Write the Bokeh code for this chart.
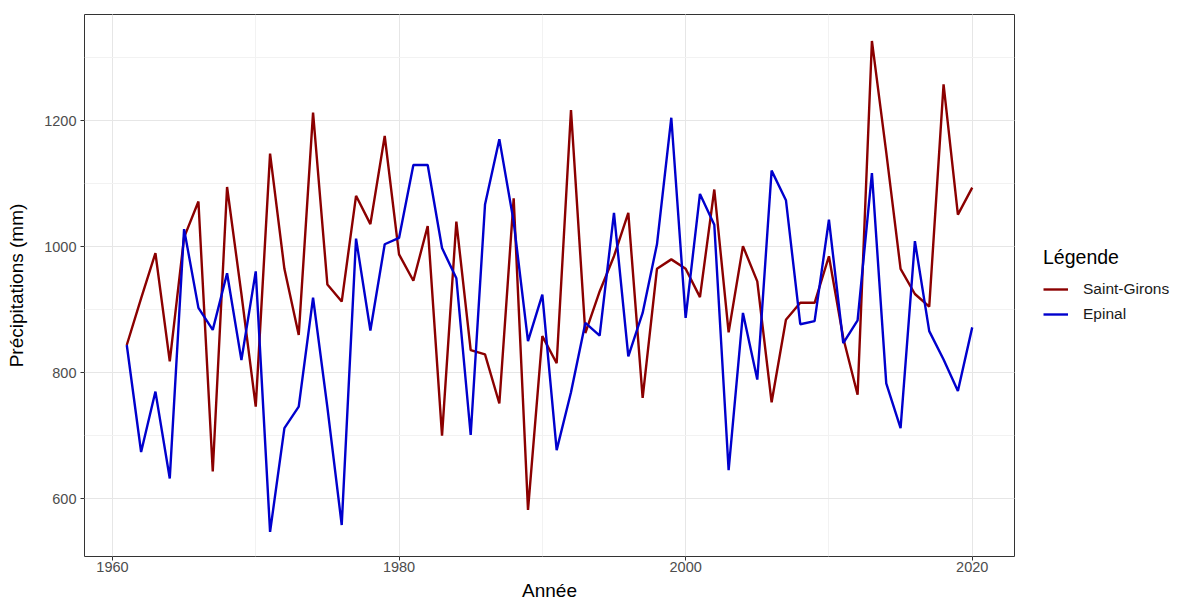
from bokeh.plotting import figure
from bokeh.models import (ColumnDataSource, Range1d, SingleIntervalTicker, Legend, LegendItem)
from bokeh.embed import file_html
from bokeh.resources import INLINE

years = list(range(1961, 2021))
saint_girons = [844, 918, 990, 818, 1015, 1072, 643, 1095, 925, 746,
                1148, 965, 860, 1213, 940, 913, 1081, 1036, 1176, 988,
                946, 1033, 700, 1040, 836, 829, 751, 1077, 582, 858,
                815, 1217, 863, 929, 985, 1054, 760, 965, 980, 965,
                920, 1091, 864, 1001, 945, 753, 884, 911, 911, 985,
                855, 765, 1327, 1150, 965, 925, 905, 1258, 1051, 1094]
epinal = [844, 674, 770, 632, 1028, 903, 868, 958, 820, 961,
          547, 712, 746, 919, 745, 558, 1013, 867, 1004, 1014,
          1130, 1130, 998, 950, 701, 1067, 1171, 1040, 850, 924,
          677, 769, 879, 859, 1054, 826, 895, 1004, 1205, 887,
          1084, 1035, 645, 895, 789, 1121, 1074, 877, 882, 1043,
          847, 883, 1117, 783, 712, 1009, 866, 821, 771, 872]
series_names = ["Saint-Girons", "Epinal"]
series_colors = ["#8B0000", "#0000CD"]

src = ColumnDataSource(dict(year=years, sg=saint_girons, ep=epinal))

FONT = "Liberation Sans"

p = figure(frame_width=930, frame_height=542, output_backend="svg", toolbar_location=None,
           x_range=Range1d(1958.05, 2022.95), y_range=Range1d(508, 1369),
           min_border_left=84, min_border_right=0, min_border_top=14, min_border_bottom=49)

p.background_fill_color = "white"
p.border_fill_color = "white"
p.outline_line_color = "#333333"
p.outline_line_width = 1

p.xaxis.ticker = SingleIntervalTicker(interval=20, num_minor_ticks=2)
p.yaxis.ticker = SingleIntervalTicker(interval=200, num_minor_ticks=2)

for ax in (p.xaxis[0], p.yaxis[0]):
    ax.axis_line_color = None
    ax.major_tick_line_color = "#333333"
    ax.major_tick_out = 4
    ax.major_tick_in = 0
    ax.minor_tick_line_color = None
    ax.major_label_text_font = FONT
    ax.major_label_text_font_size = "14.5px"
    ax.major_label_text_color = "#4d4d4d"
    ax.axis_label_text_font = FONT
    ax.axis_label_text_font_size = "19px"
    ax.axis_label_text_font_style = "normal"
    ax.axis_label_text_color = "#000000"

p.xaxis.axis_label = "Année"
p.yaxis.axis_label = "Précipitations (mm)"
p.xaxis.major_label_standoff = 1
p.xaxis.axis_label_standoff = 5
p.yaxis.major_label_standoff = 4
p.yaxis.axis_label_standoff = 14

for g in (p.xgrid[0], p.ygrid[0]):
    g.grid_line_color = "#e6e6e6"
    g.grid_line_width = 1
    g.minor_grid_line_color = "#f2f2f2"
    g.minor_grid_line_width = 1

r_sg = p.line("year", "sg", source=src, line_color=series_colors[0], line_width=2.4)
r_ep = p.line("year", "ep", source=src, line_color=series_colors[1], line_width=2.4)

legend = Legend(items=[LegendItem(label=series_names[0], renderers=[r_sg]),
                       LegendItem(label=series_names[1], renderers=[r_ep])],
                location="left", orientation="vertical")
legend.title = "Légende"
legend.title_text_font = FONT
legend.title_text_font_size = "19.5px"
legend.title_text_font_style = "normal"
legend.title_text_color = "#000000"
legend.title_standoff = 10
legend.label_text_font = FONT
legend.label_text_font_size = "15.5px"
legend.label_text_color = "#1a1a1a"
legend.glyph_width = 25
legend.glyph_height = 20
legend.label_height = 20
legend.label_standoff = 15
legend.spacing = 5
legend.padding = 2
legend.margin = 29
legend.border_line_color = None
legend.background_fill_alpha = 0
p.add_layout(legend, "right")

open("out.html", "w").write(file_html(p, INLINE))
